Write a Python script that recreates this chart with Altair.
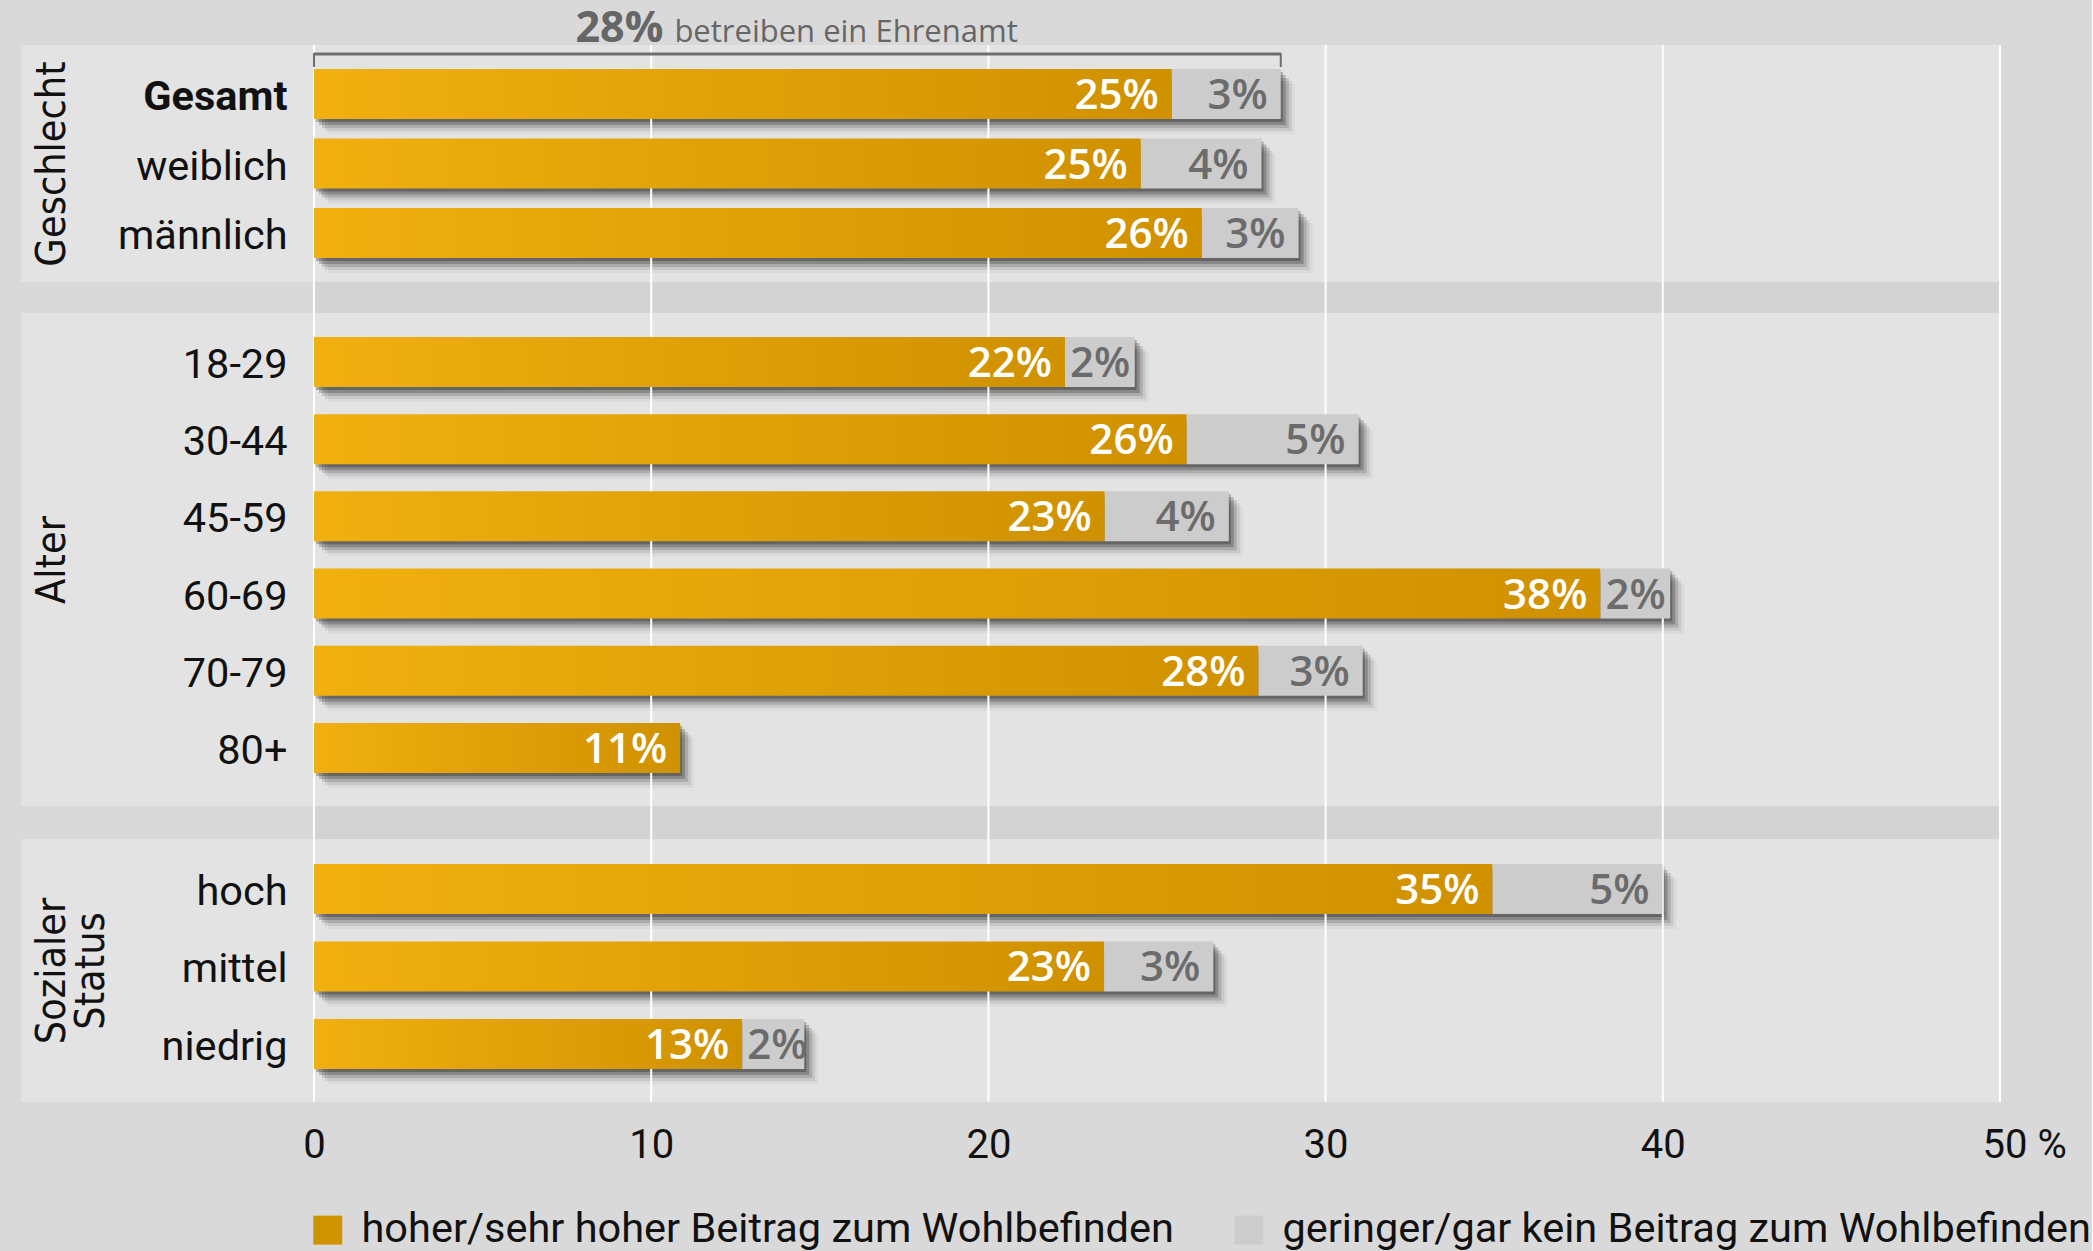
import altair as alt
import pandas as pd

# ---------------- data ----------------
group_titles = [["Geschlecht"], ["Alter"], ["Sozialer", "Status"]]
categories = [
    ["Gesamt", "weiblich", "männlich"],
    ["18-29", "30-44", "45-59", "60-69", "70-79", "80+"],
    ["hoch", "mittel", "niedrig"],
]
high_values = [
    [25.44, 24.52, 26.33],
    [22.27, 25.88, 23.45, 38.15, 28.01, 10.86],
    [34.95, 23.43, 12.70],
]
low_values = [
    [3.23, 3.58, 2.87],
    [2.07, 5.10, 3.68, 2.07, 3.09, 0.0],
    [5.04, 3.24, 1.84],
]
high_labels = [
    ["25%", "25%", "26%"],
    ["22%", "26%", "23%", "38%", "28%", "11%"],
    ["35%", "23%", "13%"],
]
low_labels = [
    ["3%", "4%", "3%"],
    ["2%", "5%", "4%", "2%", "3%", ""],
    ["5%", "3%", "2%"],
]
tick_values = [0, 10, 20, 30, 40, 50]
legend_labels = [
    "hoher/sehr hoher Beitrag zum Wohlbefinden",
    "geringer/gar kein Beitrag zum Wohlbefinden",
]
annotation_value = "28%"
annotation_text = "betreiben ein Ehrenamt"

# ---------------- styles ----------------
BG = "#D9D9D9"
PANEL = "#E3E3E3"
GAP = "#D3D3D3"
ORANGE_L = "#F0B00F"
ORANGE_R = "#CF9100"
ORANGE = "#D09300"
GRAY = "#CCCCCC"
LABEL_GRAY = "#6B6B6B"
TEXT = "#111111"

PLOT_W = 1686
LEFT_EXT = 293

LABEL_FONT = "Roboto"
VALUE_FONT = "Open Sans"
GROUP_FONT = "DejaVu Sans Condensed"

layouts = [
    dict(light=237, total=268, inner=0.28, outer=0.345, align=0.5),
    dict(light=493, total=526, inner=0.352, outer=0.369, align=0.42),
    dict(light=263, total=263, inner=0.355, outer=0.374, align=0.43),
]

shadows = [(2, 3, 0.25), (5, 6, 0.2), (8, 9, 0.14), (11, 12, 0.08), (14, 15, 0.04)]

gradient = alt.Gradient(
    gradient="linear",
    stops=[alt.GradientStop(color=ORANGE_L, offset=0),
           alt.GradientStop(color=ORANGE_R, offset=1)],
    x1=0, x2=1, y1=0, y2=0,
)


def build_panel(i):
    lay = layouts[i]
    df = pd.DataFrame({
        "cat": categories[i],
        "high": high_values[i],
        "low": low_values[i],
        "hl": high_labels[i],
        "ll": low_labels[i],
    })
    df["total"] = df["high"] + df["low"]
    base = alt.Chart(df)

    xs = alt.Scale(domain=[0, 50], nice=False, zero=True)
    ys = alt.Scale(domain=categories[i], range=[0, lay["light"]],
                   paddingInner=lay["inner"], paddingOuter=lay["outer"],
                   align=lay["align"])
    title = group_titles[i] if len(group_titles[i]) > 1 else group_titles[i][0]
    yaxis = alt.Axis(
        title=title, titleAngle=270, titleX=-250, titleY=lay["light"] / 2,
        titleAlign="center", titleBaseline="alphabetic", titleFont=GROUP_FONT,
        titleFontSize=41, titleFontWeight="normal", titleColor=TEXT,
        titleLineHeight=39, zindex=2,
        labelFont=LABEL_FONT, labelFontSize=41.5, labelColor=TEXT,
        labelPadding=27, labelBaseline="alphabetic", labelOffset=16,
        labelLimit=0, ticks=False, domain=False, grid=False,
        labelFontWeight={"condition": {"test": "datum.value == 'Gesamt'", "value": "bold"},
                         "value": "normal"},
    )
    if i == 2:
        xaxis = alt.Axis(
            title=None, values=tick_values, ticks=False, tickSize=0, domain=False,
            grid=False, labelFont=LABEL_FONT, labelFontSize=40, labelColor=TEXT,
            labelPadding=55, labelBaseline="alphabetic", labelFlush=False, zindex=2,
            labelExpr="datum.value == 50 ? '50 %' : datum.label",
            labelAlign={"condition": {"test": "datum.value == 50", "value": "left"},
                        "value": "center"},
            labelOffset={"condition": {"test": "datum.value == 50", "value": -18},
                         "value": 0},
        )
    else:
        xaxis = None

    y = alt.Y("cat:N", scale=ys, axis=yaxis)

    bg = alt.Chart(alt.Data(values=[{}])).mark_rect(color=PANEL).encode(
        x=alt.value(-LEFT_EXT), x2=alt.value(PLOT_W),
        y=alt.value(0), y2=alt.value(lay["light"]),
    )
    grid = alt.Chart(pd.DataFrame({"t": tick_values})).mark_rule(
        color="white", strokeWidth=2
    ).encode(
        x=alt.X("t:Q", scale=xs, axis=xaxis),
        y=alt.value(0), y2=alt.value(lay["total"]),
    )
    layers = [bg]
    for dx, dy, op in shadows:
        layers.append(
            base.mark_bar(color="black", opacity=op, xOffset=dx, yOffset=dy).encode(
                x=alt.X("total:Q", scale=xs, axis=xaxis), y=y)
        )
    layers.append(grid)
    layers.append(
        base.mark_bar(color=gradient).encode(
            x=alt.X("high:Q", scale=xs, axis=xaxis), y=y)
    )
    layers.append(
        base.mark_bar(color=GRAY).encode(
            x=alt.X("high:Q", scale=xs, axis=xaxis), x2="total:Q", y=y)
    )
    layers.append(
        base.mark_text(align="right", baseline="alphabetic", dx=-13, dy=15,
                       font=VALUE_FONT, fontSize=42, fontWeight=600,
                       color="white").encode(
            x=alt.X("high:Q", scale=xs, axis=xaxis), y=y, text="hl:N")
    )
    layers.append(
        base.transform_filter("datum.low >= 2.5").mark_text(
            align="right", baseline="alphabetic", dx=-13, dy=15,
            font=VALUE_FONT, fontSize=42, fontWeight=600, color=LABEL_GRAY).encode(
            x=alt.X("total:Q", scale=xs, axis=xaxis), y=y, text="ll:N")
    )
    layers.append(
        base.transform_filter("datum.low > 0 && datum.low < 2.5").mark_text(
            align="left", baseline="alphabetic", dx=5, dy=15,
            font=VALUE_FONT, fontSize=42, fontWeight=600, color=LABEL_GRAY).encode(
            x=alt.X("high:Q", scale=xs, axis=xaxis), y=y, text="ll:N")
    )

    if i == 0:
        first = base.transform_filter(f"datum.cat == '{categories[0][0]}'").transform_calculate(
            zero="0", mid="datum.total / 2")
        layers.append(first.mark_rule(color="#6E6E6E", strokeWidth=3).encode(
            x=alt.X("zero:Q", scale=xs, axis=xaxis), x2="total:Q", y=alt.value(9)))
        layers.append(first.mark_rule(color="#6E6E6E", strokeWidth=2).encode(
            x=alt.X("zero:Q", scale=xs, axis=xaxis), y=alt.value(8), y2=alt.value(22)))
        layers.append(first.mark_rule(color="#6E6E6E", strokeWidth=2).encode(
            x=alt.X("total:Q", scale=xs, axis=xaxis), y=alt.value(8), y2=alt.value(22)))
        layers.append(first.mark_text(
            text=annotation_value, align="right", baseline="alphabetic", dx=-134,
            font=VALUE_FONT, fontSize=43, fontWeight="bold", color="#666666").encode(
            x=alt.X("mid:Q", scale=xs, axis=xaxis), y=alt.value(-3)))
        layers.append(first.mark_text(
            text=annotation_text, align="left", baseline="alphabetic", dx=-123,
            font=VALUE_FONT, fontSize=31, color="#666666").encode(
            x=alt.X("mid:Q", scale=xs, axis=xaxis), y=alt.value(-3)))

    if i == 2:
        leg = alt.Chart(pd.DataFrame({"series": legend_labels})).mark_square(opacity=0).encode(
            color=alt.Color(
                "series:N",
                scale=alt.Scale(domain=legend_labels, range=[ORANGE, GRAY]),
                legend=alt.Legend(
                    orient="none", legendX=-7, legendY=370, direction="horizontal",
                    title=None, symbolType="square", symbolSize=841, symbolOpacity=1,
                    symbolStrokeWidth=0, labelFont=LABEL_FONT, labelFontSize=41.5,
                    labelColor=TEXT, labelOffset=13, columnPadding=54, labelLimit=0,
                    padding=0,
                ),
            )
        )
        layers.append(leg)

    return alt.layer(*layers).properties(width=PLOT_W, height=lay["total"])


panels = [build_panel(i) for i in range(3)]

chart = (
    alt.vconcat(*panels, spacing=0, bounds="flush")
    .resolve_scale(x="independent", y="independent", color="independent")
    .resolve_legend(color="independent")
    .properties(background=BG, padding={"left": 21, "top": 8, "right": 0, "bottom": 8})
    .configure_view(stroke=None, fill=GAP)
    .configure_axis(grid=False)
)

chart.save("out.html", embed_options={"renderer": "svg", "actions": False})
